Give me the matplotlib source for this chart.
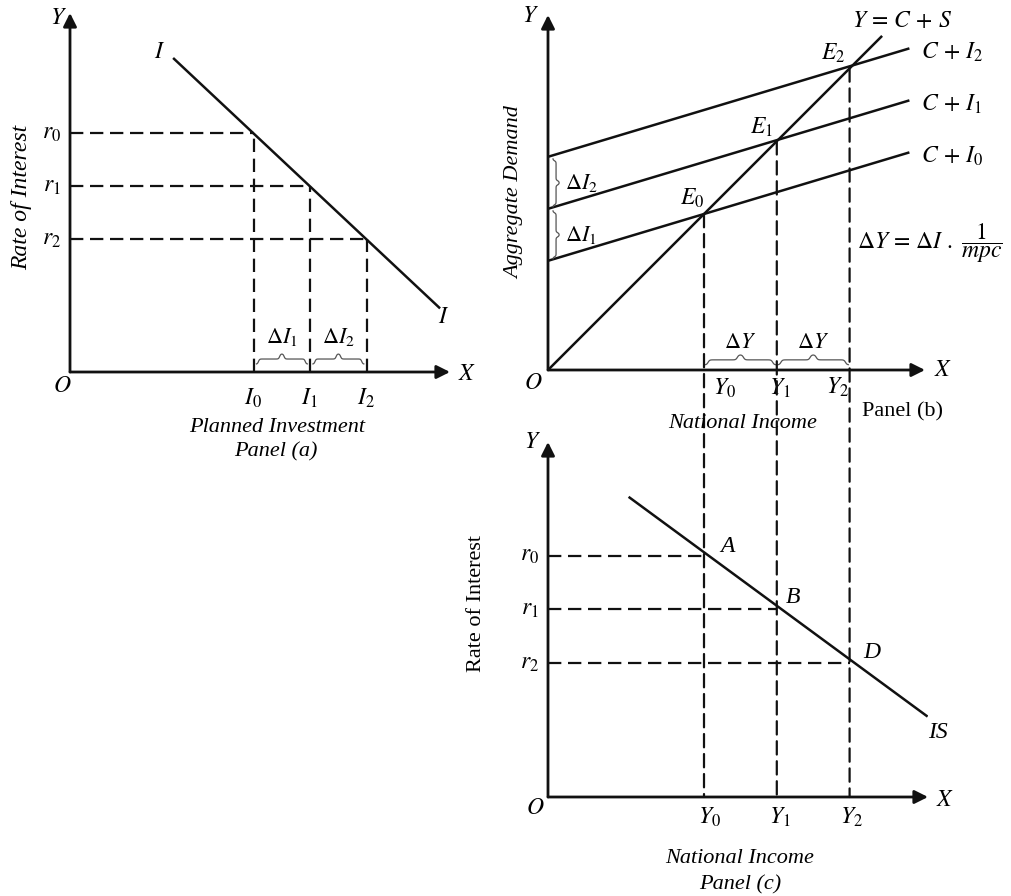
import matplotlib
matplotlib.use("Agg")
import matplotlib.pyplot as plt
import numpy as np
from matplotlib.patches import ConnectionPatch

plt.rcParams['font.family'] = ['Liberation Serif', 'DejaVu Serif']
plt.rcParams['mathtext.fontset'] = 'stix'

W, H = 1012, 896
INK = '#111111'

# panel (a): investment demand schedule
invest = [65, 85, 105]
rates_a = [9, 7, 5]
i_line_inv = [36.5, 131]
i_line_rate = [11.85, 2.4]
invest_labels = [r'$I_0$', r'$I_1$', r'$I_2$']
rate_labels = [r'$r_0$', r'$r_1$', r'$r_2$']

# panel (b): aggregate demand / 45 degree line
ad_left = [42, 62, 82]
ad_right = [83.7, 103.7, 123.7]
ad_end = 139
ad_labels = [r'$C\,+\,I_0$', r'$C\,+\,I_1$', r'$C\,+\,I_2$']
income = [60, 88, 116]
line45_end = 128.5
e_labels = [r'$E_0$', r'$E_1$', r'$E_2$']
y_labels = [r'$Y_0$', r'$Y_1$', r'$Y_2$']

# panel (c): IS curve
rates_c = [9, 7, 5]
is_income = [31, 146]
is_rate = [11.2, 3.0]
point_labels = ['A', 'B', 'D']

DASH = dict(color=INK, lw=1.6, ls=(0, (6, 3)))
SOLID = dict(color=INK, lw=1.8, solid_capstyle='butt')
MATH = 17
DELTA = 16


def px(dx, dy):
    # pixel offset -> points
    return (dx * 0.72, -dy * 0.72)


def fig_text(x, y, s, **kw):
    fig.text(x / W, 1 - y / H, s, ha='center', va='center', **kw)


def make_axes(ox, oy, wpx, hpx, xscale, yscale):
    ax = fig.add_axes([ox / W, 1 - oy / H, wpx / W, hpx / H])
    ax.set_xlim(0, wpx / xscale)
    ax.set_ylim(0, hpx / yscale)
    ax.axis('off')
    arrow = dict(arrowstyle='-|>', lw=2.0, color=INK, mutation_scale=20,
                 shrinkA=0, shrinkB=0)
    ax.annotate('', xy=(1, 0), xytext=(0, 0), xycoords='axes fraction',
                arrowprops=arrow)
    ax.annotate('', xy=(0, 1), xytext=(0, 0), xycoords='axes fraction',
                arrowprops=arrow)
    return ax


def brace(ax, a, b, base, tip, vertical=False):
    t = np.linspace(0, 0.5, 60)
    half = 1 / (1 + np.exp(-90 * (t - 0.04))) + 1 / (1 + np.exp(-90 * (t - 0.46)))
    shape = np.concatenate([half, half[::-1]]) / 2
    s = np.linspace(a, b, shape.size)
    h = base + (tip - base) * shape
    if vertical:
        ax.plot(h, s, color='#555555', lw=0.9, clip_on=False)
    else:
        ax.plot(s, h, color='#555555', lw=0.9, clip_on=False)


def label(ax, s, xy, off, size=MATH, **kw):
    ax.annotate(s, xy, xytext=px(*off), textcoords='offset points',
                ha=kw.pop('ha', 'center'), va='center', fontsize=size, **kw)


fig = plt.figure(figsize=(W / 100, H / 100), dpi=100)

# ---------------- panel (a)
ax_a = make_axes(70, 372, 380, 359, 2.825, 26.5)
ax_a.plot(i_line_inv, i_line_rate, **SOLID)
for inv, r, il, rl in zip(invest, rates_a, invest_labels, rate_labels):
    ax_a.plot([0, inv], [r, r], **DASH)
    ax_a.plot([inv, inv], [0, r], **DASH)
    label(ax_a, rl, (0, r), (-18, 0))
    label(ax_a, il, (inv, 0), (-1, 26))
label(ax_a, r'$I$', (i_line_inv[0], i_line_rate[0]), (-13, -5))
label(ax_a, r'$I$', (i_line_inv[1], i_line_rate[1]), (4, 9))
for k, lab in enumerate([r'$\Delta I_1$', r'$\Delta I_2$']):
    mid = (invest[k] + invest[k + 1]) / 2
    brace(ax_a, invest[k] + 1, invest[k + 1] - 1, 0.3, 0.68)
    label(ax_a, lab, (mid, 0), (0, -35), size=DELTA)

fig_text(22, 197, 'Rate of Interest', rotation=90, style='italic', fontsize=17)
fig_text(58, 18, r'$Y$', fontsize=MATH)
fig_text(467, 375, r'$X$', fontsize=MATH)
fig_text(62, 386, r'$O$', fontsize=MATH)
fig_text(277, 427, 'Planned Investment', style='italic', fontsize=16)
fig_text(276, 452, 'Panel (a)', style='italic', fontsize=16)

# ---------------- panel (b)
ax_b = make_axes(548, 370, 377, 355, 2.6, 2.6)
ax_b.plot([0, line45_end], [0, line45_end], **SOLID)
for yl, yr, lab in zip(ad_left, ad_right, ad_labels):
    ax_b.plot([0, ad_end], [yl, yr], **SOLID)
    label(ax_b, lab, (ad_end, yr), (12, 4), ha='left')
label(ax_b, r'$Y\,=\,C\,+\,S$', (line45_end, line45_end), (20, -14))
e_off = [(-12, -16), (-15, -14), (-16, -15)]
y_off = [(21, 18), (3, 18), (-12, 17)]
for y, el, yl, eo, yo in zip(income, e_labels, y_labels, e_off, y_off):
    label(ax_b, el, (y, y), eo)
    label(ax_b, yl, (y, 0), yo)
for k, lab in enumerate([r'$\Delta I_1$', r'$\Delta I_2$']):
    brace(ax_b, ad_left[k] + 0.8, ad_left[k + 1] - 0.8, 1.9, 4.3, vertical=True)
    label(ax_b, lab, (0, (ad_left[k] + ad_left[k + 1]) / 2), (33, 0), size=DELTA)
    mid = (income[k] + income[k + 1]) / 2
    brace(ax_b, income[k] + 0.5, income[k + 1] - 0.5, 2.0, 5.8)
    label(ax_b, r'$\Delta Y$', (mid, 0), (0, -27), size=DELTA)

fig_text(515, 193, 'Aggregate Demand', rotation=90, style='italic', fontsize=16)
fig_text(530, 17, r'$Y$', fontsize=MATH)
fig_text(943, 370, r'$X$', fontsize=MATH)
fig_text(533, 383, r'$O$', fontsize=MATH)
fig_text(930, 243, r'$\Delta Y\,=\,\Delta I\ .\ \dfrac{1}{mpc}$', fontsize=17)
fig_text(903, 412, 'Panel (b)', fontsize=16)
fig_text(743, 423, 'National Income', style='italic', fontsize=16)

# ---------------- panel (c)
ax_c = make_axes(548, 797, 380, 355, 2.6, 26.8)
ax_c.plot(is_income, is_rate, **SOLID)
p_off = [(23, -9), (16, -12), (22, -10)]
yc_off = [(6, 20), (3, 20), (2, 20)]
for y, r, pl, rl, yl, po, yo in zip(income, rates_c, point_labels, rate_labels,
                                    y_labels, p_off, yc_off):
    ax_c.plot([0, y], [r, r], **DASH)
    label(ax_c, pl, (y, r), po, style='italic')
    label(ax_c, rl, (0, r), (-18, 0))
    label(ax_c, yl, (y, 0), yo)
    # dashed link from equilibrium in panel (b) down to panel (c)
    con = ConnectionPatch(xyA=(y, y), coordsA=ax_b.transData,
                          xyB=(y, 0), coordsB=ax_c.transData,
                          color=INK, lw=1.6, ls=(0, (6, 3)))
    fig.add_artist(con)
label(ax_c, 'IS', (is_income[1], is_rate[1]), (10, 16), style='italic')

fig_text(477, 603, 'Rate of Interest', rotation=90, fontsize=16)
fig_text(532, 442, r'$Y$', fontsize=MATH)
fig_text(945, 800, r'$X$', fontsize=MATH)
fig_text(535, 808, r'$O$', fontsize=MATH)
fig_text(740, 858, 'National Income', style='italic', fontsize=16)
fig_text(740, 885, 'Panel (c)', style='italic', fontsize=16)

fig.savefig('out.png', dpi=100, facecolor='white')
